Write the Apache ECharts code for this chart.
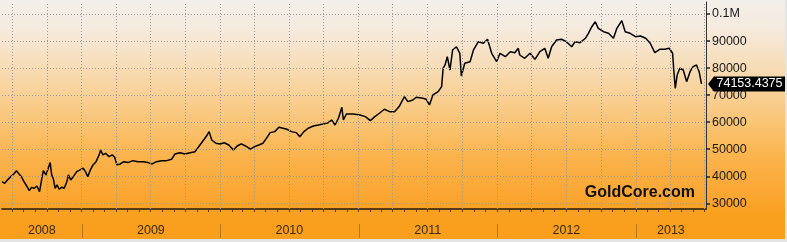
<!DOCTYPE html>
<html><head><meta charset="utf-8">
<script src="https://cdn.jsdelivr.net/npm/echarts@6/dist/echarts.min.js"></script>
<style>html,body{margin:0;padding:0;background:#fff}#c{width:787px;height:242px}</style>
</head><body><div id="c"></div>
<script>
// ---- data ----
const dates = [
'2008-06-05','2008-06-12','2008-06-21','2008-06-30','2008-07-06','2008-07-13','2008-07-20','2008-07-27','2008-08-02','2008-08-09',
'2008-08-16','2008-08-22','2008-08-29','2008-09-05','2008-09-12','2008-09-18','2008-09-22','2008-09-29','2008-10-05','2008-10-10',
'2008-10-14','2008-10-18','2008-10-23','2008-10-28','2008-11-03','2008-11-10','2008-11-16','2008-11-23','2008-11-27','2008-12-03',
'2008-12-10','2008-12-19','2008-12-28','2009-01-05','2009-01-11','2009-01-17','2009-01-24','2009-01-31','2009-02-08','2009-02-16',
'2009-02-20','2009-02-26','2009-03-05','2009-03-14','2009-03-23','2009-03-29','2009-04-04','2009-04-13','2009-04-22','2009-05-03',
'2009-05-16','2009-05-30','2009-06-12','2009-06-25','2009-07-06','2009-07-17','2009-07-31','2009-08-13','2009-08-26','2009-09-04',
'2009-09-17','2009-09-30','2009-10-14','2009-10-27','2009-11-07','2009-11-20','2009-11-28','2009-12-03','2009-12-10','2009-12-21',
'2010-01-01','2010-01-12','2010-01-24','2010-02-05','2010-02-15','2010-02-26','2010-03-09','2010-03-22','2010-04-02','2010-04-13',
'2010-04-24','2010-05-03','2010-05-13','2010-05-25','2010-06-05','2010-06-16','2010-06-26','2010-07-08','2010-07-21','2010-07-30',
'2010-08-10','2010-08-21','2010-09-04','2010-09-17','2010-09-30','2010-10-13','2010-10-22','2010-10-31','2010-11-09','2010-11-18',
'2010-11-22','2010-11-30','2010-12-18','2011-01-05','2011-01-19','2011-02-01','2011-02-13','2011-02-25','2011-03-10','2011-03-24',
'2011-04-06','2011-04-19','2011-05-02','2011-05-11','2011-05-24','2011-06-02','2011-06-20','2011-06-28','2011-07-07','2011-07-16',
'2011-07-30','2011-08-08','2011-08-12','2011-08-17','2011-08-23','2011-08-30','2011-09-06','2011-09-16','2011-09-25','2011-09-29',
'2011-10-08','2011-10-22','2011-10-31','2011-11-13','2011-11-26','2011-12-07','2011-12-18','2011-12-31','2012-01-09','2012-01-23',
'2012-02-05','2012-02-17','2012-02-26','2012-03-01','2012-03-14','2012-03-28','2012-04-10','2012-04-23','2012-05-06','2012-05-15',
'2012-05-24','2012-06-06','2012-06-19','2012-07-02','2012-07-16','2012-07-25','2012-08-07','2012-08-21','2012-08-29','2012-09-07',
'2012-09-16','2012-09-24','2012-10-08','2012-10-21','2012-11-03','2012-11-12','2012-11-25','2012-12-04','2012-12-17','2012-12-31',
'2013-01-13','2013-01-27','2013-02-08','2013-02-20','2013-03-05','2013-03-18','2013-03-30','2013-04-08','2013-04-11','2013-04-15',
'2013-04-20','2013-04-27','2013-05-06','2013-05-15','2013-05-24','2013-06-01','2013-06-10','2013-06-17','2013-06-23'
];
const values = [
38000,37400,38850,40100,40800,42050,40800,39600,38000,36400,
34700,35900,35550,36400,34300,39250,42050,40500,42950,45050,
40500,39250,35550,36800,35200,35950,35550,38000,40500,38650,
39850,41700,42350,42950,41700,39850,42350,44200,45400,47900,
49700,47900,48500,47250,47900,47000,44200,44550,45400,45050,
45770,45400,45400,45050,44550,45400,45770,45770,46270,48250,
48720,48250,48720,49100,51200,53670,55270,56500,53420,52200,
51950,52400,51570,49700,51200,51950,51200,50000,50950,51570,
52200,54030,56130,56500,58100,57740,57380,56500,56130,54640,
56500,57740,58600,58960,59340,59800,60800,58960,61440,65500,
60800,63030,63030,62660,62040,60560,62040,63300,64770,63880,
63880,65990,69430,67600,68200,69200,68850,68480,66360,70060,
71300,73130,79930,81150,84220,79300,86700,87900,85470,77080,
81780,82370,86700,89760,89170,90650,85470,82370,85470,84220,
86060,85700,87320,84840,83620,85470,83250,86060,87320,83620,
87900,90390,90650,89760,87900,89760,89390,91020,92860,95300,
97150,94700,93460,92860,91020,94700,97520,93460,92860,91610,
91870,91020,89170,85700,86950,86950,87320,85470,79300,72530,
77450,79930,79300,74970,78680,80520,81150,78680,74153.4375
];
const yTicks = [30000,40000,50000,60000,70000,80000,90000,100000];
const yearLabels = ['2008','2009','2010','2011','2012','2013'];
const quarterLines = [
'2008-07-01','2008-10-01','2009-01-01','2009-04-01','2009-07-01','2009-10-01',
'2010-01-01','2010-04-01','2010-07-01','2010-10-01','2011-01-01','2011-04-01',
'2011-07-01','2011-10-01','2012-01-01','2012-04-01','2012-07-01','2012-10-01',
'2013-01-01','2013-04-01','2013-07-01'
];
const xMinDate = '2008-06-05', xMaxDate = '2013-07-05';
const yMin = 27890, yMax = 104440;
const brand = 'GoldCore.com';

// ---- helpers ----
const ts = s => +echarts.number.parseDate(s);
const xMin = ts(xMinDate), xMax = ts(xMaxDate);
const monthTicks = [];
for (let y = 2008; y <= 2013; y++) for (let m = 0; m < 12; m++) {
  const t = new Date(y, m, 1).getTime();
  if (t >= xMin && t <= xMax) monthTicks.push(t);
}
const FONT = '"Liberation Sans", Arial, sans-serif';
const lastVal = values[values.length - 1];
const lastText = String(lastVal);
const dotted = { color: '#9a9a9a', width: 1, type: [1, 2] };

const chart = echarts.init(document.getElementById('c'), null, { renderer: 'canvas' });
chart.setOption({
  animation: false,
  backgroundColor: new echarts.graphic.LinearGradient(0, 0, 0, 1, [
    { offset: 0, color: '#f3efeb' },
    { offset: 0.12, color: '#f5eadd' },
    { offset: 0.3, color: '#f7dab0' },
    { offset: 0.5, color: '#f9c577' },
    { offset: 0.65, color: '#fbb34c' },
    { offset: 0.8, color: '#fba734' },
    { offset: 0.88, color: '#f9a020' },
    { offset: 1, color: '#f99e1a' }
  ]),
  grid: { left: 2, right: 81, top: 2, bottom: 33, containLabel: false },
  xAxis: {
    type: 'time', min: xMin, max: xMax,
    axisLine: { show: true, onZero: false, lineStyle: { color: '#5b3c12', width: 2 } },
    axisTick: { show: true, customValues: monthTicks, length: 3, lineStyle: { color: '#5b3c12', width: 1 } },
    axisLabel: { show: false },
    splitLine: { show: false }
  },
  yAxis: {
    type: 'value', position: 'right', min: yMin, max: yMax, scale: true,
    axisLine: { show: true, lineStyle: { color: '#333', width: 1 } },
    axisTick: { show: true, customValues: yTicks, length: 4, lineStyle: { color: '#222', width: 1.5 } },
    axisLabel: {
      customValues: yTicks, margin: 6, color: '#1a1a1a', fontSize: 12.5, fontFamily: FONT,
      formatter: v => (v === 100000 ? '0.1M' : String(v))
    },
    splitLine: { show: false }
  },
  graphic: [
    { type: 'text', x: 695, y: 193, z: 100,
      style: { text: brand, align: 'right', verticalAlign: 'middle', font: 'bold 16px ' + FONT, fill: '#111' } },
    { type: 'rect', shape: { x: 0, y: 239, width: 787, height: 3 }, style: { fill: '#e4e4e4' }, z: 100 },
    { type: 'rect', shape: { x: 785, y: 0, width: 2, height: 242 }, style: { fill: '#e4e4e4' }, z: 100 }
  ],
  series: [
    {
      type: 'line', data: dates.map((d, i) => [d, values[i]]),
      showSymbol: false, symbol: 'none', silent: true,
      lineStyle: { color: '#000', width: 1.5 },
      markLine: {
        silent: true, symbol: ['none', 'none'], animation: false,
        label: { show: false }, lineStyle: dotted,
        data: quarterLines.map(d => ({ xAxis: d })).concat(yTicks.map(v => ({ yAxis: v })))
      },
      markPoint: {
        silent: true, animation: false,
        data: [{
          coord: [xMax, lastVal],
          symbol: 'path://M0,7.5L6,0H78V15H6Z', symbolSize: [77, 15], symbolOffset: [40.5, 0],
          itemStyle: { color: '#000' },
          label: { show: true, formatter: lastText, color: '#fff', fontSize: 12.5, fontFamily: FONT, offset: [3, 0] }
        }]
      }
    },
    {
      type: 'custom', silent: true, animation: false, clip: false,
      data: yearLabels.map(y => [ts(y + '-01-01'), ts((+y + 1) + '-01-01'), yMin]),
      encode: { x: [0, 1], y: 2 },
      renderItem: (params, api) => {
        const s = Math.max(api.value(0), xMin), e = Math.min(api.value(1), xMax);
        const p1 = api.coord([s, yMin]), p2 = api.coord([e, yMin]);
        const children = [{
          type: 'text',
          style: { text: yearLabels[params.dataIndex], x: (p1[0] + p2[0]) / 2, y: p1[1] + 21.5,
                   align: 'center', verticalAlign: 'middle', fill: '#3b2a12', font: '12.5px ' + FONT }
        }];
        if (api.value(0) > xMin) children.push({
          type: 'line', shape: { x1: Math.round(p1[0]) + 0.5, y1: p1[1] + 15, x2: Math.round(p1[0]) + 0.5, y2: p1[1] + 29 },
          style: { stroke: '#b87516', lineWidth: 1 }
        });
        return { type: 'group', children };
      }
    }
  ]
});
</script></body></html>
